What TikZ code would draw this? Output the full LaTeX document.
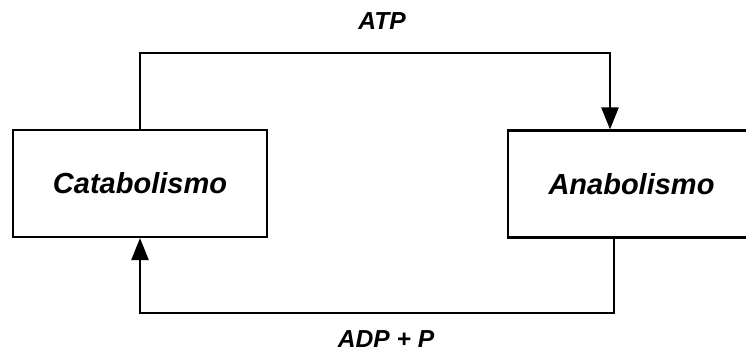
\documentclass[tikz,border=0pt]{standalone}
\usepackage{fontspec}
\setmainfont{Liberation Sans}
\usetikzlibrary{arrows.meta}
\begin{document}
\begin{tikzpicture}[x=1cm,y=1cm,
  stage/.style={draw,line width=1.2pt,minimum height=2.14cm,font=\fontsize{16.5}{20}\selectfont\bfseries\itshape},
  flow/.style={line width=1.4pt,-{Triangle[length=4.4mm,width=3.4mm]}},
  tag/.style={font=\fontsize{14}{17}\selectfont\bfseries\itshape}]
\useasboundingbox (0,0) rectangle (14.92,7.26);
\node[stage,minimum width=5.08cm] (cata) at (2.8,3.59) {Catabolismo};
\node[stage,minimum width=4.94cm] (ana) at (12.63,3.58) {Anabolismo};
\coordinate (up) at (12.2,6.2);
\coordinate (down) at (12.28,1.0);
\draw[flow] (cata.north) |- (up) -- (up |- ana.north);
\draw[flow] (down |- ana.south) -- (down) -| (cata.south);
\node[tag] (atp) at (7.64,6.84) {ATP};
\node[tag] (adp) at (7.72,0.47) {ADP + P};
\end{tikzpicture}
\end{document}
